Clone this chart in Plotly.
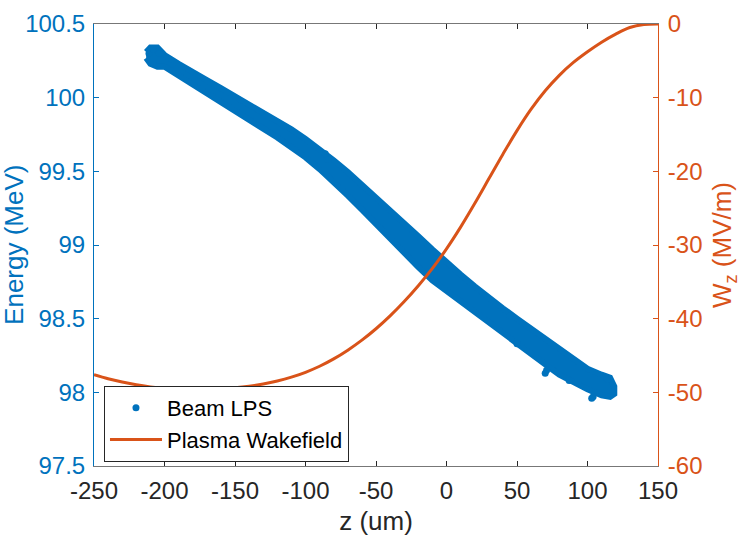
import plotly.graph_objects as go

BLUE = "#0072BD"
ORANGE = "#D95319"
DARK = "#262626"

# ---- Beam LPS band: z (um) with upper / lower energy edges (MeV)
z_edge = [-213, -210, -205, -200, -190, -180, -170, -160, -150, -140, -130, -120,
          -110, -100, -90, -80, -70, -60, -50, -40, -30, -20, -10,
          0, 10, 20, 30, 40, 50, 60, 70, 80, 90, 100, 110, 116, 119]
e_upper = [100.31, 100.34, 100.34, 100.29, 100.23, 100.18, 100.12, 100.065, 100.01, 99.955,
           99.90, 99.845, 99.785, 99.72, 99.65, 99.575, 99.495, 99.41, 99.325, 99.24, 99.15,
           99.06, 98.97, 98.88, 98.80, 98.72, 98.64, 98.57, 98.50, 98.43, 98.37, 98.30,
           98.23, 98.16, 98.12, 98.10, 98.04]
e_lower = [100.27, 100.23, 100.21, 100.21, 100.14, 100.09, 100.03, 99.97, 99.91, 99.85,
           99.79, 99.73, 99.665, 99.595, 99.515, 99.43, 99.335, 99.24, 99.145, 99.05, 98.95,
           98.85, 98.76, 98.69, 98.62, 98.55, 98.48, 98.41, 98.34, 98.26, 98.19, 98.12,
           98.07, 98.02, 97.98, 97.97, 97.99]

# ---- individual beam particles sticking out of the band
z_out = [-211, -208, -204, -86, -84, 45, 50, 70, 71, 87, 103, 104, 114, 118]
e_out = [100.30, 100.33, 100.30, 99.62, 99.58, 98.52, 98.33, 98.13, 98.15, 98.08,
         97.96, 97.97, 98.09, 98.00]

# ---- Plasma wakefield W_z (MV/m)
z_wake = [-250, -240, -230, -220, -210, -200, -190, -180, -170, -160, -150, -140, -130,
          -120, -110, -100, -90, -80, -70, -60, -50, -40, -30, -20, -10,
          0, 10, 20, 30, 40, 50, 60, 70, 80, 90, 100, 110, 120, 130, 140, 150]
w_wake = [-47.6, -48.15, -48.6, -48.98, -49.26, -49.46, -49.58, -49.63, -49.61, -49.53,
          -49.38, -49.16, -48.86, -48.46, -47.94, -47.28, -46.46, -45.46, -44.28, -42.92,
          -41.37, -39.62, -37.67, -35.52, -33.17, -30.52, -27.57, -24.37, -21.02, -17.67,
          -14.47, -11.57, -9.07, -6.97, -5.22, -3.77, -2.47, -1.37, -0.47, -0.07, 0.0]

# ---- ticks
x_ticks = [-250, -200, -150, -100, -50, 0, 50, 100, 150]
x_tick_text = ["-250", "-200", "-150", "-100", "-50", "0", "50", "100", "150"]
y_ticks = [97.5, 98, 98.5, 99, 99.5, 100, 100.5]
y_tick_text = ["97.5", "98", "98.5", "99", "99.5", "100", "100.5"]
y2_ticks = [-60, -50, -40, -30, -20, -10, 0]
y2_tick_text = ["-60", "-50", "-40", "-30", "-20", "-10", "0"]

fig = go.Figure()

fig.add_trace(go.Scatter(
    x=z_edge + z_edge[::-1], y=e_upper + e_lower[::-1],
    mode="lines", fill="toself", fillcolor=BLUE,
    line=dict(color=BLUE, width=6), showlegend=False, hoverinfo="skip"))

fig.add_trace(go.Scatter(
    x=z_out, y=e_out, mode="markers", name="Beam LPS",
    marker=dict(color=BLUE, size=7)))

fig.add_trace(go.Scatter(
    x=z_wake, y=w_wake, mode="lines", name="Plasma Wakefield",
    line=dict(color=ORANGE, width=3, shape="spline", smoothing=1), yaxis="y2"))

fig.update_layout(
    width=747, height=541,
    margin=dict(l=94, r=88.5, t=10.5, b=75),
    plot_bgcolor="white", paper_bgcolor="white",
    font=dict(family="Liberation Sans, Arial, sans-serif", size=24, color=DARK),
    showlegend=True,
    legend=dict(x=0.0177, y=0.095, xanchor="left", yanchor="middle",
                bgcolor="white", bordercolor=DARK, borderwidth=1,
                font=dict(size=22, color="black"), itemwidth=52,
                tracegroupgap=0),
    xaxis=dict(range=[-250, 150], tickvals=x_ticks, ticktext=x_tick_text,
               showgrid=False, zeroline=False, showline=True, linecolor="#777777",
               linewidth=1, mirror="ticks", ticks="inside", ticklen=5,
               tickcolor=DARK, tickfont=dict(size=24, color=DARK),
               ticklabelstandoff=3, ticklabeloverflow="allow",
               title=dict(text="z (um)", font=dict(size=26, color=DARK), standoff=9)),
    yaxis=dict(range=[97.5, 100.5], tickvals=y_ticks, ticktext=y_tick_text,
               showgrid=False, zeroline=False, showline=True, linecolor=BLUE,
               linewidth=1, ticks="inside", ticklen=5, tickcolor=BLUE,
               tickfont=dict(size=24, color=BLUE),
               ticklabelstandoff=3, ticklabeloverflow="allow"),
    yaxis2=dict(range=[-60, 0], tickvals=y2_ticks, ticktext=y2_tick_text,
                overlaying="y", side="right", showgrid=False, zeroline=False,
                showline=True, linecolor=ORANGE, linewidth=1, ticks="inside",
                ticklen=5, tickcolor=ORANGE, tickfont=dict(size=24, color=ORANGE),
                ticklabelstandoff=4, ticklabeloverflow="allow",
                title=dict(text="W<sub>z</sub> (MV/m)", font=dict(size=26, color=ORANGE),
                           standoff=11)),
    annotations=[dict(text="Energy (MeV)", textangle=-90, xref="paper", yref="paper",
                      x=-0.142, y=0.5, xanchor="center", yanchor="middle",
                      showarrow=False, font=dict(size=26, color=BLUE))],
)

fig.write_html("out.html", config={"displayModeBar": False},
               post_script="document.body.style.margin='0px';")
